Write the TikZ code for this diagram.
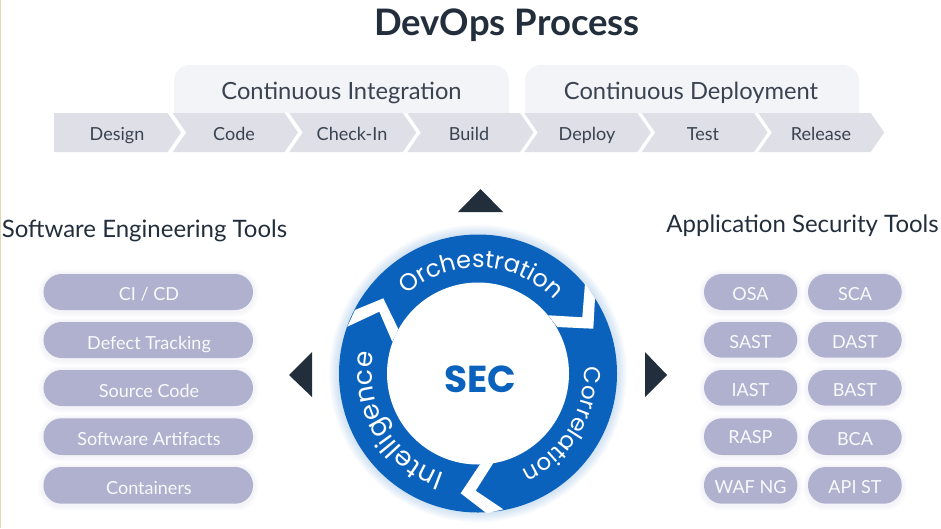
\documentclass[tikz,border=0pt]{standalone}
\usepackage{fontspec}
\setmainfont{Lato}
\newfontfamily\wheelfont{Poppins}
\usetikzlibrary{decorations.text}
\definecolor{wheel}{HTML}{0A62BC}
\definecolor{darkc}{HTML}{232E3C}
\definecolor{bandc}{HTML}{F3F4F8}
\definecolor{chevc}{HTML}{DEDFE7}
\definecolor{pillc}{HTML}{AFB1CF}
\definecolor{textc}{HTML}{3A4350}
\definecolor{edgec}{HTML}{E3D8B6}
\tikzset{x=1pt,y=1pt,
 chevlabel/.style={font=\fontsize{18}{20}\selectfont,text=textc,inner sep=0pt,anchor=base},
 bandlabel/.style={font=\fontsize{23.7}{26}\selectfont,text=textc,inner sep=0pt,anchor=base},
 heading/.style={font=\fontsize{24}{26}\selectfont,text=darkc,inner sep=0pt,anchor=base},
 pilllabel/.style={font=\fontsize{18}{20}\selectfont,text=white!93!pillc,inner sep=0pt,anchor=base},
 tri/.style={fill=darkc,draw=none},
 gap/.style={fill=white,draw=none},
 wheeltext/.style 2 args={decorate,decoration={text along path,text align=center,text={|\wheelfont\fontsize{#2}{26}\selectfont\color{white}|#1}}},
}
\newcommand{\chev}[2]{%
 \fill[chevc] (#1,-113) -- (#2,-113) -- ({#2+13.5},-132.5) -- (#2,-152) -- (#1,-152) -- ({#1+13.5},-132.5) -- cycle;}
\newcommand{\pillbox}[4]{%
 \fill[pillc,opacity=0.05,rounded corners=22pt] ({#1-5},{-#3+4}) rectangle ({#2+5},{-#4-7});
 \fill[pillc,opacity=0.05,rounded corners=20pt] ({#1-3},{-#3+2}) rectangle ({#2+3},{-#4-5});
 \fill[pillc,opacity=0.06,rounded corners=19pt] ({#1-1.5},{-#3+1}) rectangle ({#2+1.5},{-#4-3});
 \fill[pillc,rounded corners=18pt] (#1,-#3) rectangle (#2,-#4);}
\begin{document}
\begin{tikzpicture}
\useasboundingbox (0,0) rectangle (941,-528);
\fill[edgec] (0,0) rectangle (1.2,-528);
\node[font=\fontsize{36.5}{40}\selectfont\bfseries,text=darkc,inner sep=0pt,anchor=base] (title) at (507,-35) {DevOps Process};
% bands
\fill[bandc,rounded corners=16pt] (174,-113) -- (174,-65) -- (509,-65) -- (509,-113);
\fill[bandc,rounded corners=16pt] (525,-113) -- (525,-65) -- (859,-65) -- (859,-113);
\fill[bandc] (174,-100) rectangle (509,-113);
\fill[bandc] (525,-100) rectangle (859,-113);
\node[bandlabel] (ci) at (341.5,-99) {Continuous Integration};
\node[bandlabel] (cd) at (691,-99) {Continuous Deployment};
% chevrons
\fill[chevc] (54,-113) -- (167.7,-113) -- (181,-132.5) -- (167.7,-152) -- (54,-152) -- cycle;
\chev{172.7}{284.5}
\chev{289.3}{402.7}
\chev{407.3}{520}
\chev{524.3}{637.3}
\chev{641.7}{754}
\chev{758.3}{870.7}
\node[chevlabel] (c1) at (117,-140) {Design};
\node[chevlabel] (c2) at (234,-140) {Code};
\node[chevlabel] (c3) at (352,-140) {Check-In};
\node[chevlabel] (c4) at (469,-140) {Build};
\node[chevlabel] (c5) at (587,-140) {Deploy};
\node[chevlabel] (c6) at (703,-140) {Test};
\node[chevlabel] (c7) at (821,-140) {Release};
% triangles
\fill[tri] (458,-212) -- (503,-212) -- (480.5,-189) -- cycle;
\fill[tri] (289,-375) -- (312,-352) -- (312,-397) -- cycle;
\fill[tri] (645,-352) -- (645,-397) -- (667,-375) -- cycle;
% headings
\node[heading] (h1) at (144.5,-237.5) {Software Engineering Tools};
\node[heading] (h2) at (802.5,-232.5) {Application Security Tools};
% left pills
\pillbox{43.5}{253}{274}{310}
\pillbox{43.5}{253}{322}{358}
\pillbox{43.5}{253}{370}{406}
\pillbox{43.5}{253}{418.3}{455}
\pillbox{43.5}{253}{467}{503.7}
\node[pilllabel] (la) at (149,-300) {CI / CD};
\node[pilllabel] (lb) at (149,-349) {Defect Tracking};
\node[pilllabel] (lc) at (149,-397.3) {Source Code};
\node[pilllabel] (ld) at (149,-445) {Software Artifacts};
\node[pilllabel] (le) at (149,-494) {Containers};
% right pills
\pillbox{704}{797.3}{274}{310}
\pillbox{704}{797.3}{322}{357.7}
\pillbox{704}{797.3}{370}{405.7}
\pillbox{704}{797.3}{418.3}{455}
\pillbox{704}{797.3}{467}{503.7}
\pillbox{808}{901.7}{274}{310}
\pillbox{808}{901.7}{322}{357.7}
\pillbox{808}{901.7}{370}{405.7}
\pillbox{808}{901.7}{419.7}{455}
\pillbox{808}{901.7}{467}{503.7}
\node[pilllabel] (ra) at (750.5,-300) {OSA};
\node[pilllabel] (rb) at (750.5,-348.3) {SAST};
\node[pilllabel] (rc) at (750.5,-396.7) {IAST};
\node[pilllabel] (rd) at (750.5,-443.3) {RASP};
\node[pilllabel] (re) at (750.5,-493.3) {WAF NG};
\node[pilllabel] (sa) at (855,-300) {SCA};
\node[pilllabel] (sb) at (855,-348.3) {DAST};
\node[pilllabel] (sc) at (855,-396.7) {BAST};
\node[pilllabel] (sd) at (855,-445) {BCA};
\node[pilllabel] (se) at (855,-493.3) {API ST};
% glow
\coordinate (c) at (478,-373.5);
\foreach \r in {149,148,147,146,145,144,143,142,141,140}{
 \fill[wheel,opacity=0.02] (c) circle[radius=\r];
}
\fill[wheel] (c) circle[radius=139];
\fill[white] (c) circle[radius=91];
% gaps
\fill[gap] (585,-283.3) -- (582.3,-317.3) -- (548.3,-315.3) -- (557.3,-327) -- (593.3,-328.7) -- (595,-298.3) -- cycle;
\fill[gap] (480,-464.3) -- (460.7,-493.3) -- (486.7,-513.3) -- (503.3,-509.3) -- (475.7,-490.7) -- (493.3,-463) -- cycle;
\fill[gap] (347.3,-326.7) -- (379.3,-311.7) -- (392.3,-341.7) -- (398.3,-329) -- (383.3,-298.3) -- (355,-310) -- cycle;
\node[font=\wheelfont\fontsize{37.5}{40}\selectfont\bfseries,text=wheel,inner sep=0pt,anchor=base] (sec) at (480,-392) {SEC};
% wheel texts
\path[wheeltext={Orchestration}{24}] (c) ++(138:106) arc[start angle=138,end angle=38,radius=106];
\path[wheeltext={Correlation}{23}] (c) ++(14:106) arc[start angle=14,end angle=-76,radius=106];
\path[wheeltext={Intelligence}{26.5}] (c) ++(260:106) arc[start angle=260,end angle=160,radius=106];
\end{tikzpicture}
\end{document}
